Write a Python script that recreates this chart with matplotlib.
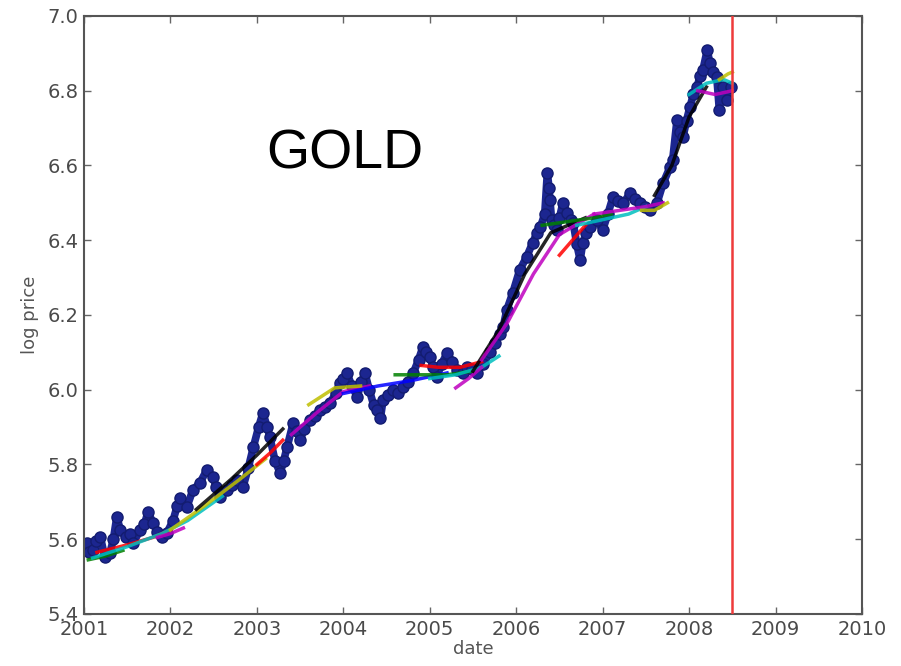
import numpy as np
import matplotlib
matplotlib.use('Agg')
import matplotlib.pyplot as plt

#%% gold log price
blue_year = [2001.00, 2001.03, 2001.06, 2001.10, 2001.14, 2001.19, 2001.24, 2001.30, 2001.34, 2001.38,
             2001.42, 2001.49, 2001.53, 2001.57, 2001.65, 2001.70, 2001.74, 2001.80, 2001.85, 2001.90,
             2001.96, 2002.03, 2002.08, 2002.11, 2002.19, 2002.26, 2002.34, 2002.42, 2002.49, 2002.53,
             2002.57, 2002.65, 2002.71, 2002.77, 2002.84, 2002.90, 2002.96, 2003.02, 2003.07, 2003.12,
             2003.15, 2003.21, 2003.27, 2003.31, 2003.35, 2003.42, 2003.46, 2003.50, 2003.55, 2003.61,
             2003.67, 2003.73, 2003.79, 2003.85, 2003.91, 2003.96, 2004.00, 2004.04, 2004.10, 2004.16,
             2004.21, 2004.25, 2004.30, 2004.35, 2004.39, 2004.43, 2004.46, 2004.52, 2004.57, 2004.63,
             2004.69, 2004.75, 2004.81, 2004.87, 2004.92, 2004.96, 2005.00, 2005.04, 2005.08, 2005.14,
             2005.20, 2005.26, 2005.32, 2005.38, 2005.43, 2005.49, 2005.55, 2005.62, 2005.70, 2005.76,
             2005.81, 2005.85, 2005.89, 2005.96, 2006.04, 2006.12, 2006.19, 2006.24, 2006.28, 2006.33,
             2006.36, 2006.38, 2006.39, 2006.41, 2006.44, 2006.47, 2006.50, 2006.54, 2006.59, 2006.63,
             2006.66, 2006.70, 2006.74, 2006.77, 2006.81, 2006.85, 2006.93, 2007.00, 2007.06, 2007.12,
             2007.18, 2007.24, 2007.32, 2007.38, 2007.43, 2007.49, 2007.55, 2007.63, 2007.70, 2007.78,
             2007.81, 2007.86, 2007.90, 2007.93, 2007.97, 2008.01, 2008.05, 2008.09, 2008.13, 2008.16,
             2008.21, 2008.24, 2008.28, 2008.32, 2008.35, 2008.39, 2008.44, 2008.49]
blue_val = [5.585, 5.590, 5.565, 5.571, 5.595, 5.606, 5.553, 5.563, 5.600, 5.660,
            5.625, 5.606, 5.615, 5.590, 5.625, 5.640, 5.673, 5.643, 5.620, 5.606,
            5.617, 5.650, 5.690, 5.710, 5.686, 5.732, 5.750, 5.785, 5.767, 5.740,
            5.713, 5.732, 5.745, 5.759, 5.740, 5.790, 5.847, 5.900, 5.938, 5.900,
            5.874, 5.810, 5.777, 5.810, 5.847, 5.911, 5.890, 5.866, 5.895, 5.919,
            5.930, 5.946, 5.955, 5.965, 5.990, 6.018, 6.030, 6.045, 6.010, 5.981,
            6.020, 6.045, 6.000, 5.960, 5.946, 5.925, 5.973, 5.985, 6.000, 5.990,
            6.007, 6.020, 6.045, 6.080, 6.114, 6.100, 6.088, 6.060, 6.034, 6.070,
            6.098, 6.075, 6.053, 6.045, 6.061, 6.055, 6.045, 6.070, 6.100, 6.125,
            6.150, 6.168, 6.213, 6.259, 6.320, 6.355, 6.393, 6.420, 6.435, 6.470,
            6.580, 6.540, 6.508, 6.454, 6.440, 6.427, 6.460, 6.500, 6.473, 6.455,
            6.446, 6.390, 6.347, 6.393, 6.420, 6.435, 6.454, 6.427, 6.470, 6.516,
            6.505, 6.500, 6.526, 6.510, 6.500, 6.490, 6.481, 6.500, 6.553, 6.596,
            6.615, 6.722, 6.690, 6.676, 6.720, 6.757, 6.790, 6.810, 6.840, 6.856,
            6.909, 6.874, 6.850, 6.837, 6.748, 6.810, 6.775, 6.810]

#%% local fits (windows)
fit_years = [
    [2001.05, 2001.25, 2001.45],
    [2001.15, 2001.50, 2001.80, 2002.00],
    [2001.10, 2001.50, 2001.90, 2002.20, 2002.60],
    [2001.85, 2002.00, 2002.15],
    [2002.00, 2002.40, 2002.80, 2003.10],
    [2002.30, 2002.70, 2003.00, 2003.30],
    [2003.00, 2003.15, 2003.30],
    [2003.40, 2003.70, 2004.00, 2004.30],
    [2003.60, 2003.90, 2004.20],
    [2004.00, 2004.40, 2004.80, 2005.20],
    [2004.60, 2004.90, 2005.20, 2005.50],
    [2004.90, 2005.10, 2005.35, 2005.60],
    [2005.00, 2005.30, 2005.60, 2005.80],
    [2005.30, 2005.45, 2005.60],
    [2005.50, 2005.80, 2006.10, 2006.40, 2006.80],
    [2005.60, 2005.90, 2006.20, 2006.50, 2006.90],
    [2006.50, 2006.65, 2006.80],
    [2006.30, 2006.60, 2006.90, 2007.10],
    [2006.70, 2007.00, 2007.30, 2007.50],
    [2006.90, 2007.20, 2007.50, 2007.70],
    [2007.45, 2007.60, 2007.75],
    [2007.60, 2007.80, 2008.00, 2008.20],
    [2008.00, 2008.20, 2008.40, 2008.50],
    [2008.10, 2008.30, 2008.50],
    [2008.35, 2008.45, 2008.50],
]
fit_vals = [
    [5.545, 5.555, 5.570],
    [5.565, 5.585, 5.605, 5.625],
    [5.550, 5.580, 5.615, 5.650, 5.715],
    [5.605, 5.615, 5.630],
    [5.625, 5.690, 5.760, 5.815],
    [5.680, 5.760, 5.825, 5.895],
    [5.800, 5.830, 5.865],
    [5.880, 5.940, 5.995, 6.010],
    [5.960, 6.005, 6.010],
    [5.990, 6.010, 6.025, 6.045],
    [6.040, 6.040, 6.040, 6.050],
    [6.065, 6.060, 6.060, 6.075],
    [6.030, 6.040, 6.060, 6.090],
    [6.005, 6.030, 6.060],
    [6.050, 6.160, 6.310, 6.420, 6.460],
    [6.080, 6.180, 6.310, 6.415, 6.470],
    [6.360, 6.400, 6.440],
    [6.440, 6.450, 6.460, 6.470],
    [6.440, 6.455, 6.470, 6.490],
    [6.470, 6.480, 6.490, 6.500],
    [6.480, 6.480, 6.500],
    [6.520, 6.600, 6.730, 6.810],
    [6.790, 6.820, 6.830, 6.820],
    [6.800, 6.790, 6.800],
    [6.830, 6.845, 6.850],
]
fit_colors = ['g', 'r', 'c', 'm', 'y', 'k', 'r', 'm', 'y', 'b', 'g', 'r', 'c', 'm',
              'k', 'm', 'r', 'g', 'c', 'm', 'y', 'k', 'c', 'm', 'y']

cut_year = 2008.5

#%% plotting
fig = plt.figure(figsize=(9.01, 6.66), dpi=100)
fig.patch.set_facecolor('white')
ax = fig.add_axes([0.0932, 0.0781, 0.8635, 0.8979])

ax.plot(blue_year, blue_val, '-o', color='#1c2690', mec='#131c70', ms=8, lw=5.5, zorder=2)
for yrs, vals, col in zip(fit_years, fit_vals, fit_colors):
    ax.plot(yrs, vals, '-', color=col, lw=2.5, alpha=0.85, zorder=3)

ax.axvline(cut_year, color='#ee3b3b', lw=1.8, zorder=4)

ax.set_xlim(2001, 2010)
ax.set_ylim(5.4, 7.0)
ax.set_xticks(np.arange(2001, 2011))
ax.set_yticks(np.arange(5.4, 7.01, 0.2))
ax.set_xticklabels([str(y) for y in range(2001, 2011)])
ax.set_yticklabels(['%.1f' % v for v in np.arange(5.4, 7.01, 0.2)])
ax.tick_params(direction='in', top=True, right=True, length=5, width=1,
               color='#666666', labelcolor='#4a4a4a', labelsize=14, pad=4)
for sp in ax.spines.values():
    sp.set_color('#555555')
    sp.set_linewidth(1.5)

ax.set_xlabel('date', fontsize=13, color='#555555', labelpad=1)
ax.set_ylabel('log price', fontsize=13, color='#555555', labelpad=6)

fig.text(0.383, 0.768, 'GOLD', fontsize=40, family='Liberation Sans',
         ha='center', va='center', color='black')

plt.savefig('out.png', dpi=100, facecolor='white')
